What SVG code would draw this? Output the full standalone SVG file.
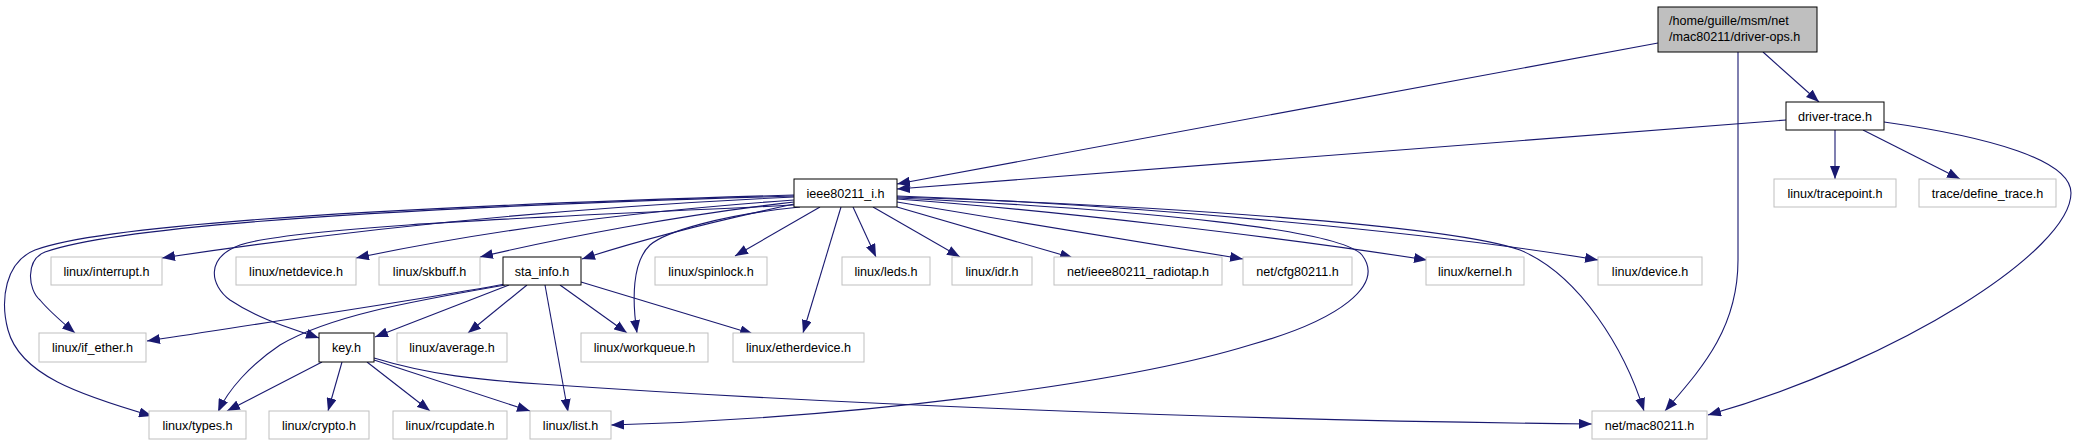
<svg xmlns="http://www.w3.org/2000/svg" width="2078" height="445" viewBox="0 0 2078 445">
<style>
.n rect{fill:#fff;stroke:#bfbfbf;stroke-width:1}
.d rect{stroke:#000}
.r rect{fill:#bfbfbf;stroke:#000}
text{font-family:"Liberation Sans",Arial,sans-serif;font-size:12.6px;fill:#000;text-anchor:middle}
.e path{fill:none;stroke:#191970;stroke-width:1.1;marker-end:url(#a)}
</style>
<defs>
<marker id="a" markerWidth="13" markerHeight="10" refX="13" refY="5" orient="auto" markerUnits="userSpaceOnUse">
<path d="M0,0 L13,5 L0,10 z" fill="#191970"/>
</marker>
</defs>
<rect width="2078" height="445" fill="#fff"/>
<g id="edges" class="e">
<path d="M1658,43 L897,184"/>
<path d="M1763,52 L1819,102"/>
<path d="M1738,52 L1738,260 C1738,330 1700,370 1665,411"/>
<path d="M1786,120 L897,189"/>
<path d="M1835,130 L1835,179"/>
<path d="M1863,130 L1960,179"/>
<path d="M1884,122 C1990,137 2071,160 2071,193 C2071,250 1900,360 1708,415"/>
<path d="M794,197 C620,205 400,222 162,258"/>
<path d="M794,200 C650,210 500,228 356,258"/>
<path d="M794,202 C680,215 560,238 480,257"/>
<path d="M794,204 C720,220 640,240 582,259"/>
<path d="M794,195 C450,205 110,222 35,250 C5,262 0,300 8,330 C20,375 80,395 152,416"/>
<path d="M794,196 C450,206 130,222 45,252 C25,260 28,290 40,300 C50,312 62,322 75,333"/>
<path d="M794,205 C600,215 300,225 240,245 C205,258 210,285 230,300 C260,320 290,328 319,338"/>
<path d="M800,207 C720,215 665,232 650,245 C632,262 632,300 637,333"/>
<path d="M820,207 L735,256"/>
<path d="M841,207 L803,333"/>
<path d="M853,207 L876,257"/>
<path d="M873,207 L960,257"/>
<path d="M897,207 L1073,258"/>
<path d="M897,202 L1243,259"/>
<path d="M897,199 C1050,210 1280,237 1427,260"/>
<path d="M897,196 C1150,205 1450,235 1598,260"/>
<path d="M897,197 C1150,205 1450,225 1520,250 C1580,275 1625,350 1644,411"/>
<path d="M897,198 C1150,210 1340,230 1362,255 C1385,285 1340,320 1250,345 C1120,385 850,418 611,425"/>
<path d="M505,284 C420,300 250,325 147,341"/>
<path d="M505,285 C420,300 330,315 280,345 C250,365 228,390 218,412"/>
<path d="M509,285 L375,337"/>
<path d="M527,285 L468,333"/>
<path d="M545,285 L568,412"/>
<path d="M560,285 L627,333"/>
<path d="M581,282 L753,334"/>
<path d="M322,362 L227,411"/>
<path d="M342,362 L328,411"/>
<path d="M367,362 L430,411"/>
<path d="M374,360 L530,411"/>
<path d="M374,358 C430,375 480,380 540,384 C800,402 1200,420 1592,424"/>
</g>
<g id="n0" class="n r"><rect x="1658" y="7" width="159" height="45"/><text x="1669" y="24.5" style="text-anchor:start">/home/guille/msm/net</text><text x="1669" y="41" style="text-anchor:start">/mac80211/driver-ops.h</text></g>
<g id="n1" class="n d"><rect x="1786" y="102" width="98" height="28"/><text x="1835" y="120.5">driver-trace.h</text></g>
<g id="n2" class="n d"><rect x="794" y="179" width="103" height="28"/><text x="845.5" y="197.5">ieee80211_i.h</text></g>
<g id="n3" class="n"><rect x="1774" y="179" width="122" height="28"/><text x="1835" y="197.5">linux/tracepoint.h</text></g>
<g id="n4" class="n"><rect x="1919" y="179" width="137" height="28"/><text x="1987.5" y="197.5">trace/define_trace.h</text></g>
<g id="n5" class="n"><rect x="51" y="257" width="111" height="28"/><text x="106.5" y="275.5">linux/interrupt.h</text></g>
<g id="n6" class="n"><rect x="236" y="257" width="120" height="28"/><text x="296" y="275.5">linux/netdevice.h</text></g>
<g id="n7" class="n"><rect x="379" y="257" width="101" height="28"/><text x="429.5" y="275.5">linux/skbuff.h</text></g>
<g id="n8" class="n d"><rect x="503" y="257" width="78" height="28"/><text x="542" y="275.5">sta_info.h</text></g>
<g id="n9" class="n"><rect x="655" y="257" width="112" height="28"/><text x="711" y="275.5">linux/spinlock.h</text></g>
<g id="n10" class="n"><rect x="842" y="257" width="88" height="28"/><text x="886" y="275.5">linux/leds.h</text></g>
<g id="n11" class="n"><rect x="952" y="257" width="80" height="28"/><text x="992" y="275.5">linux/idr.h</text></g>
<g id="n12" class="n"><rect x="1054" y="257" width="168" height="28"/><text x="1138" y="275.5">net/ieee80211_radiotap.h</text></g>
<g id="n13" class="n"><rect x="1243" y="257" width="109" height="28"/><text x="1297.5" y="275.5">net/cfg80211.h</text></g>
<g id="n14" class="n"><rect x="1426" y="257" width="98" height="28"/><text x="1475" y="275.5">linux/kernel.h</text></g>
<g id="n15" class="n"><rect x="1598" y="257" width="104" height="28"/><text x="1650" y="275.5">linux/device.h</text></g>
<g id="n16" class="n"><rect x="39" y="333" width="107" height="29"/><text x="92.5" y="352">linux/if_ether.h</text></g>
<g id="n17" class="n d"><rect x="319" y="333" width="55" height="29"/><text x="346.5" y="352">key.h</text></g>
<g id="n18" class="n"><rect x="397" y="333" width="110" height="29"/><text x="452" y="352">linux/average.h</text></g>
<g id="n19" class="n"><rect x="581" y="333" width="127" height="29"/><text x="644.5" y="352">linux/workqueue.h</text></g>
<g id="n20" class="n"><rect x="733" y="333" width="131" height="29"/><text x="798.5" y="352">linux/etherdevice.h</text></g>
<g id="n21" class="n"><rect x="149" y="411" width="97" height="28"/><text x="197.5" y="429.5">linux/types.h</text></g>
<g id="n22" class="n"><rect x="269" y="411" width="100" height="28"/><text x="319" y="429.5">linux/crypto.h</text></g>
<g id="n23" class="n"><rect x="393" y="411" width="114" height="28"/><text x="450" y="429.5">linux/rcupdate.h</text></g>
<g id="n24" class="n"><rect x="530" y="411" width="81" height="28"/><text x="570.5" y="429.5">linux/list.h</text></g>
<g id="n25" class="n"><rect x="1592" y="411" width="115" height="28"/><text x="1649.5" y="429.5">net/mac80211.h</text></g>
</svg>
